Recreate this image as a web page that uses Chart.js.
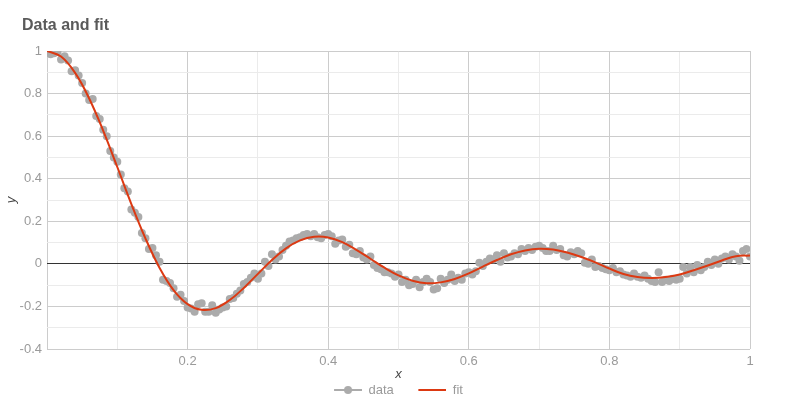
<!DOCTYPE html>
<html>
<head>
<meta charset="utf-8">
<script src="https://cdn.jsdelivr.net/npm/chart.js@4.4.1/dist/chart.umd.min.js"></script>
<style>
  html, body { margin: 0; padding: 0; background: #fff; }
  #wrap { width: 800px; height: 400px; }
</style>
</head>
<body>
<div id="wrap"><canvas id="c" width="800" height="400"></canvas></div>
<script>
// measured points, x = 0.005 .. 1.0
var dataX = [];
for (var i = 1; i <= 200; i++) { dataX.push(+(i * 0.005).toFixed(3)); }
var dataY = [
  0.985, 0.99, 0.995, 0.96, 0.975, 0.955, 0.905, 0.91, 0.885, 0.85,
  0.80, 0.77, 0.775, 0.695, 0.68, 0.63, 0.60, 0.53, 0.50, 0.48,
  0.42, 0.355, 0.34, 0.255, 0.24, 0.22, 0.145, 0.12, 0.07, 0.075,
  0.04, 0.01, -0.075, -0.08, -0.09, -0.115, -0.155, -0.145, -0.175, -0.205,
  -0.21, -0.225, -0.19, -0.185, -0.225, -0.225, -0.195, -0.23, -0.215, -0.205,
  -0.2, -0.165, -0.16, -0.14, -0.125, -0.095, -0.085, -0.065, -0.045, -0.07,
  -0.045, 0.01, -0.01, 0.045, 0.02, 0.035, 0.065, 0.085, 0.105, 0.11,
  0.12, 0.125, 0.135, 0.14, 0.13, 0.14, 0.125, 0.12, 0.135, 0.14,
  0.13, 0.095, 0.11, 0.115, 0.08, 0.09, 0.05, 0.045, 0.06, 0.03,
  0.02, 0.035, -0.005, -0.02, -0.025, -0.04, -0.04, -0.045, -0.06, -0.05,
  -0.085, -0.075, -0.1, -0.095, -0.075, -0.11, -0.085, -0.07, -0.085, -0.12,
  -0.115, -0.07, -0.09, -0.075, -0.05, -0.08, -0.065, -0.075, -0.045, -0.04,
  -0.05, -0.035, 0.005, -0.01, 0.01, 0.025, 0.02, 0.04, 0.01, 0.05,
  0.03, 0.035, 0.05, 0.045, 0.07, 0.06, 0.075, 0.065, 0.08, 0.085,
  0.075, 0.06, 0.06, 0.085, 0.065, 0.07, 0.04, 0.035, 0.055, 0.045,
  0.06, 0.05, 0.005, 0.0, 0.02, -0.015, -0.01, -0.02, -0.025, -0.03,
  -0.02, -0.04, -0.035, -0.05, -0.055, -0.06, -0.045, -0.06, -0.065, -0.055,
  -0.07, -0.08, -0.085, -0.04, -0.085, -0.075, -0.08, -0.07, -0.075, -0.07,
  -0.015, -0.045, -0.015, -0.04, -0.005, -0.03, -0.015, 0.01, -0.005, 0.02,
  0.0, 0.025, 0.035, 0.02, 0.045, 0.035, 0.015, 0.06, 0.07, 0.035
];

// fitted curve, x = 0 .. 1 step 0.02
var fitX = [];
for (var j = 0; j <= 50; j++) { fitX.push(+(j * 0.02).toFixed(2)); }
var fitY = [
  1.0, 0.974, 0.897, 0.777, 0.625, 0.455, 0.281, 0.120, -0.018, -0.123,
  -0.189, -0.216, -0.208, -0.170, -0.113, -0.047, 0.018, 0.073, 0.110, 0.127,
  0.124, 0.102, 0.066, 0.024, -0.018, -0.054, -0.079, -0.091, -0.087, -0.071,
  -0.045, -0.013, 0.018, 0.045, 0.063, 0.071, 0.067, 0.053, 0.032, 0.007,
  -0.022, -0.048, -0.062, -0.066, -0.062, -0.050, -0.030, -0.008, 0.016, 0.036,
  0.039
];

var gray = '#ababab';
var red = '#dc3912';

function pts(xs, ys) {
  return xs.map(function(x, k){ return {x: x, y: ys[k]}; });
}

// legend icons: 23px blank, then a 28px line (with a dot for data)
function legendIcon(color, dot) {
  var cv = document.createElement('canvas');
  cv.width = 51; cv.height = 10;
  var g = cv.getContext('2d');
  g.strokeStyle = color; g.lineWidth = 2;
  g.beginPath(); g.moveTo(23, 5); g.lineTo(51, 5); g.stroke();
  if (dot) {
    g.fillStyle = color;
    g.beginPath(); g.arc(37, 5, 4, 0, Math.PI * 2); g.fill();
  }
  return cv;
}
var icons = [legendIcon(gray, true), legendIcon(red, false)];

function isMajor(v) {
  return Math.abs(Math.round(v * 10)) % 2 === 0;
}

var titlePlugin = {
  id: 'titleText',
  afterDraw: function(chart) {
    var ctx = chart.ctx;
    ctx.save();
    ctx.font = 'bold 16px "Liberation Sans", Arial, sans-serif';
    ctx.fillStyle = '#5a5a5a';
    ctx.textBaseline = 'alphabetic';
    ctx.fillText('Data and fit', 22, 30);
    ctx.restore();
  }
};

Chart.defaults.font.family = '"Liberation Sans", Arial, sans-serif';

new Chart(document.getElementById('c'), {
  type: 'scatter',
  data: {
    datasets: [
      {
        label: 'data',
        data: pts(dataX, dataY),
        backgroundColor: gray,
        borderColor: gray,
        borderWidth: 0,
        pointRadius: 4,
        order: 1
      },
      {
        label: 'fit',
        data: pts(fitX, fitY),
        showLine: true,
        borderColor: red,
        backgroundColor: red,
        borderWidth: 2,
        pointRadius: 0,
        tension: 0.4,
        order: 0
      }
    ]
  },
  options: {
    responsive: false,
    animation: false,
    layout: { padding: { top: 51, left: 0, right: 26, bottom: 0 } },
    plugins: {
      tooltip: { enabled: false },
      title: { display: false },
      legend: {
        position: 'bottom',
        maxHeight: 18,
        labels: {
          usePointStyle: true,
          pointStyleWidth: 51,
          padding: 1.5,
          color: '#9a9a9a',
          font: { size: 13 },
          generateLabels: function(chart) {
            return chart.data.datasets.map(function(ds, k){
              return {
                text: ds.label,
                pointStyle: icons[k],
                fillStyle: ds.borderColor,
                strokeStyle: ds.borderColor,
                lineWidth: 0,
                fontColor: '#9a9a9a',
                datasetIndex: k
              };
            });
          }
        }
      }
    },
    scales: {
      x: {
        type: 'linear',
        min: 0,
        max: 1,
        afterFit: function(s){ s.height = 33; },
        ticks: {
          stepSize: 0.1,
          padding: 5,
          color: '#9a9a9a',
          font: { size: 13 },
          maxRotation: 0,
          autoSkip: false,
          callback: function(v){
            if (v === 0 || !isMajor(v)) return '';
            return +v.toFixed(1);
          }
        },
        grid: {
          drawTicks: false,
          color: function(c){ return isMajor(c.tick.value) ? '#cccccc' : '#ebebeb'; }
        },
        border: { display: false },
        title: {
          display: true,
          text: 'x',
          color: '#444',
          padding: { top: 0, bottom: 0 },
          font: { size: 13, style: 'italic' }
        }
      },
      y: {
        min: -0.4,
        max: 1,
        afterFit: function(s){ s.width = 47; },
        ticks: {
          stepSize: 0.1,
          padding: 5,
          color: '#9a9a9a',
          font: { size: 13 },
          autoSkip: false,
          callback: function(v){
            if (!isMajor(v)) return '';
            return +v.toFixed(1);
          }
        },
        grid: {
          drawTicks: false,
          color: function(c){
            var v = c.tick.value;
            if (Math.abs(v) < 1e-9) return '#333333';
            return isMajor(v) ? '#cccccc' : '#ebebeb';
          }
        },
        border: { display: false },
        title: {
          display: true,
          text: 'y',
          color: '#444',
          padding: { top: 4, bottom: 4 },
          font: { size: 13, style: 'italic' }
        }
      },
      // empty right-hand spacer so the plot ends at x = 750
      y2: {
        position: 'right',
        min: -0.4,
        max: 1,
        afterFit: function(s){ s.width = 24; },
        ticks: { display: false },
        grid: { display: false },
        border: { display: false }
      }
    }
  },
  plugins: [titlePlugin]
});
</script>
</body>
</html>
